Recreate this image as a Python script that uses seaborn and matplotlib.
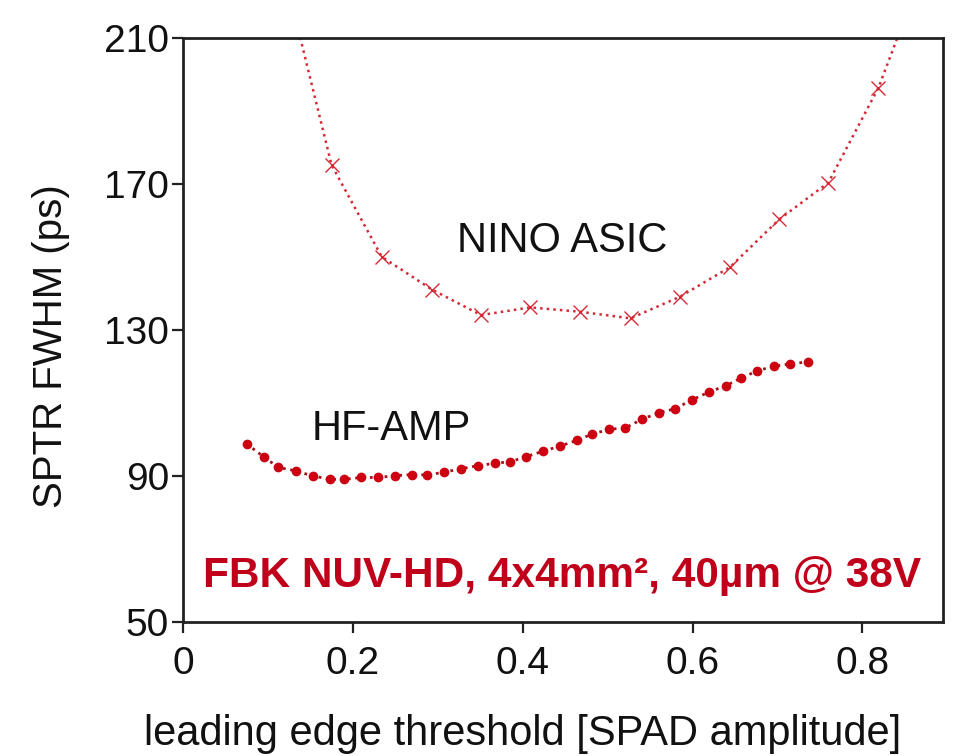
import matplotlib
matplotlib.use("Agg")
import matplotlib.pyplot as plt
import seaborn as sns
import pandas as pd

# NINO ASIC: SPTR FWHM vs leading edge threshold
nino_thr = [0.117, 0.175, 0.234, 0.293, 0.351, 0.409, 0.468, 0.527,
            0.585, 0.644, 0.702, 0.760, 0.819, 0.877]
nino_sptr = [230.0, 175.2, 150.1, 141.1, 134.1, 136.2, 135.0, 133.2,
             139.1, 147.2, 160.3, 170.4, 196.4, 232.0]

# HF-AMP: SPTR FWHM vs leading edge threshold
hf_thr = [0.075, 0.095, 0.112, 0.133, 0.153, 0.173, 0.190, 0.210, 0.230,
          0.250, 0.270, 0.287, 0.307, 0.327, 0.347, 0.367, 0.385, 0.404,
          0.424, 0.444, 0.464, 0.482, 0.502, 0.521, 0.541, 0.560, 0.579,
          0.599, 0.619, 0.639, 0.657, 0.676, 0.696, 0.715, 0.736]
hf_sptr = [98.8, 95.3, 92.4, 91.4, 90.0, 89.1, 89.1, 89.6, 89.6, 90.1,
           90.4, 90.3, 91.0, 92.0, 92.8, 93.5, 93.9, 95.3, 96.8, 98.2,
           99.8, 101.5, 102.8, 103.2, 105.6, 107.3, 108.4, 110.8, 113.0,
           114.7, 116.8, 118.8, 120.1, 120.7, 121.3]

x_ticks = [0, 0.2, 0.4, 0.6, 0.8]
x_tick_labels = ["0", "0.2", "0.4", "0.6", "0.8"]
y_ticks = [50, 90, 130, 170, 210]

sns.set_style("ticks")
plt.rcParams["font.family"] = ["Liberation Sans", "DejaVu Sans"]

fig = plt.figure(figsize=(9.61, 7.56), dpi=100)
ax = fig.add_axes([0.1904, 0.1772, 0.7909, 0.7725])

nino = pd.DataFrame({"thr": nino_thr, "sptr": nino_sptr})
hf = pd.DataFrame({"thr": hf_thr, "sptr": hf_sptr})

sns.lineplot(data=nino, x="thr", y="sptr", ax=ax, sort=False,
             color="#d42a35", linestyle=":", linewidth=1.8,
             marker="x", markersize=10, markeredgewidth=1.0,
             markeredgecolor="#d42a35")
sns.lineplot(data=hf, x="thr", y="sptr", ax=ax, sort=False,
             color="#a8101a", linestyle=":", linewidth=2.0,
             marker="o", markersize=7, markeredgewidth=0,
             markerfacecolor="#cc0010")

ax.set_xlim(0, 0.895)
ax.set_ylim(50, 210)
ax.set_xticks(x_ticks)
ax.set_xticklabels(x_tick_labels)
ax.set_yticks(y_ticks)

for side in ["left", "right", "top", "bottom"]:
    ax.spines[side].set_linewidth(2.0)
    ax.spines[side].set_color("#222222")
ax.tick_params(axis="both", direction="out", length=8, width=1.6,
               colors="#222222", labelsize=28, labelcolor="#111111")
ax.tick_params(axis="x", pad=9)
ax.tick_params(axis="y", pad=2)

ax.set_xlabel("leading edge threshold [SPAD amplitude]", fontsize=30,
              color="#111111")
ax.set_ylabel("SPTR FWHM (ps)", fontsize=29, color="#111111")
ax.xaxis.set_label_coords(0.447, -0.157)
ax.yaxis.set_label_coords(-0.149, 0.473)

ax.text(0.447, 154.4, "NINO ASIC", fontsize=30, color="#111111",
        ha="center", va="center")
ax.text(0.245, 102.9, "HF-AMP", fontsize=30, color="#111111",
        ha="center", va="center")
ax.text(0.446, 62.6, "FBK NUV-HD, 4x4mm², 40µm @ 38V", fontsize=30.5,
        fontweight="bold", color="#c0001a", ha="center", va="center")

fig.savefig("out.png", dpi=100, facecolor="white")
